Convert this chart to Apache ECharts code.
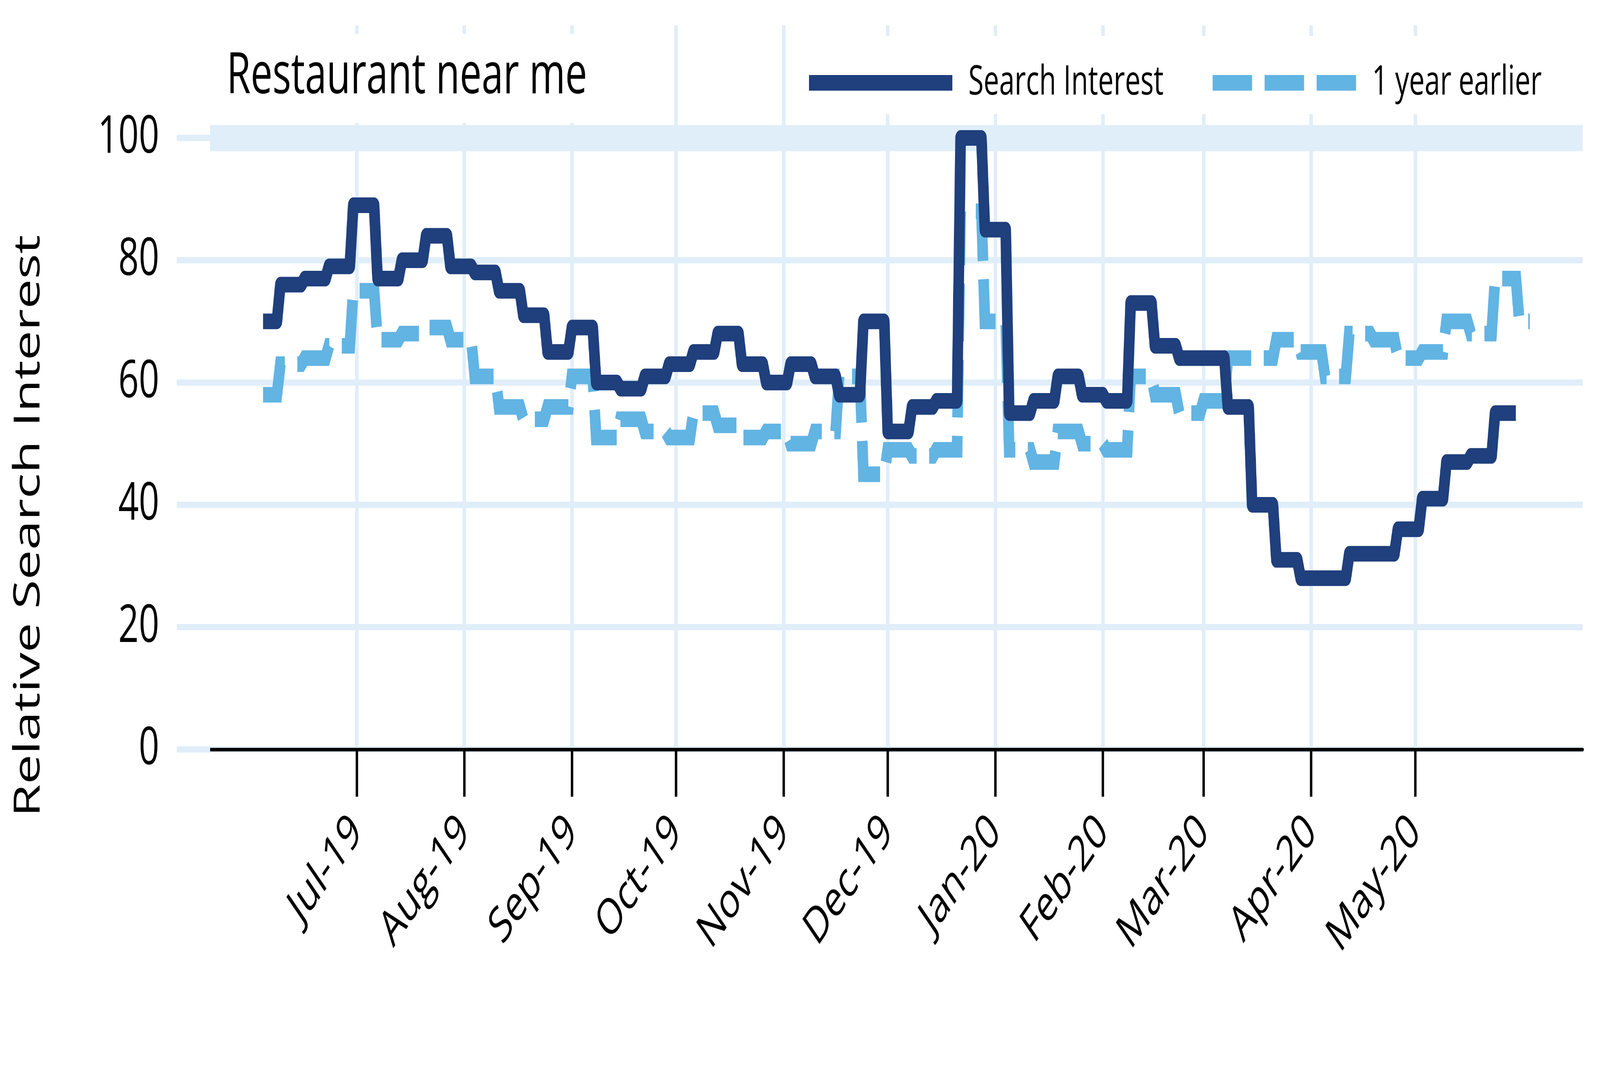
<!DOCTYPE html>
<html>
<head>
<meta charset="utf-8">
<title>Restaurant near me</title>
<script src="https://cdn.jsdelivr.net/npm/echarts@6/dist/echarts.min.js"></script>
<style>
html,body{margin:0;padding:0;background:#fff;overflow:hidden;}
#chart{width:6001px;height:2741px;transform-origin:0 0;}
</style>
</head>
<body>
<div id="chart"></div>
<script>
// weekly search interest, weeks start on sunday; first week is cut at firstDay
var titleText = 'Restaurant near me';
var yName = 'Relative Search Interest';
var seriesNames = ['Search Interest', '1 year earlier'];
var firstWeek = '2019-06-02';
var firstDay = '2019-06-04';
var lastDaySearch = '2020-05-30';
var lastDayEarlier = '2020-06-03';

var searchInterest = [70,76,77,79,89,77,80,84,79,78,75,71,65,69,60,59,61,63,65,68,
    63,60,63,61,58,70,52,56,57,100,85,55,57,61,58,57,73,66,64,64,
    56,40,31,28,28,32,32,36,41,47,48,55];
var yearEarlier = [58,63,64,66,75,67,68,69,67,61,56,54,56,61,51,54,52,51,55,53,
    51,52,50,52,61,45,49,48,49,88,70,49,47,52,50,49,61,58,55,57,
    64,64,67,65,61,68,67,64,65,70,68,77,70];

var monthTicks = ['2019-07-01','2019-08-01','2019-09-01','2019-10-01','2019-11-01','2019-12-01',
    '2020-01-01','2020-02-01','2020-03-01','2020-04-01','2020-05-01'];
var monthNames = ['Jan','Feb','Mar','Apr','May','Jun','Jul','Aug','Sep','Oct','Nov','Dec'];
var yTicks = [0, 20, 40, 60, 80, 100];

var DAY = 86400000;
var FONT = '"Open Sans", "Noto Sans", sans-serif';
var gridCol = '#E0EEF9';

function utc(s) {
    var p = s.split('-');
    return Date.UTC(+p[0], +p[1] - 1, +p[2]);
}

// each week is a flat piece from its sunday to its saturday
function weekly(values, lastDay) {
    var out = [], t0 = utc(firstWeek), lo = utc(firstDay), hi = utc(lastDay);
    values.forEach(function (v, k) {
        var s = t0 + 7 * k * DAY;
        out.push([Math.max(s, lo), v]);
        out.push([Math.min(s + 6 * DAY, hi), v]);
    });
    return out;
}

function monthLabel(v) {
    var d = new Date(v);
    return monthNames[d.getUTCMonth()] + '-' + String(d.getUTCFullYear()).slice(2);
}

var tickVals = monthTicks.map(utc);
var xMin = Date.UTC(2019, 4, 19, 18);
var xMax = Date.UTC(2020, 5, 18, 6);

// the drawing is laid out on 6001x2741; stretch it onto the real window
var box = document.getElementById('chart');
var sx = Math.min(window.innerWidth / 6001, 1);
var sy = Math.min(window.innerHeight / 2741, 1);
box.style.transform = 'scale(' + sx + ',' + sy + ')';

var chart = echarts.init(box, null, {renderer: 'canvas', width: 6001, height: 2741});

chart.setOption({
    animation: false,
    backgroundColor: '#fff',
    title: {
        text: titleText,
        left: 788, top: 87,
        padding: [20, 100, 28, 62],
        backgroundColor: '#fff',
        textStyle: {fontFamily: FONT, fontSize: 146, fontWeight: 'normal', color: '#000', lineHeight: 180}
    },
    legend: {
        left: 2980, top: 92,
        padding: [68, 40, 28, 54],
        backgroundColor: '#fff',
        itemWidth: 538, itemHeight: 40, itemGap: 184,
        selectedMode: false,
        textStyle: {fontFamily: FONT, fontSize: 104, color: '#000', padding: [28, 0, 0, 55]},
        data: [
            {name: seriesNames[0], icon: 'rect'},
            {name: seriesNames[1], icon: 'path://M0 0H148V40H0ZM195 0H343V40H195ZM390 0H538V40H390Z'}
        ]
    },
    graphic: [{
        type: 'text', x: 109, y: 1346, rotation: Math.PI / 2,
        style: {text: yName, font: '136px ' + FONT, fill: '#000', align: 'center', verticalAlign: 'middle'}
    }],
    grid: [
        {left: 788, right: 65, top: 353, bottom: 823, containLabel: false, outerBoundsMode: 'none'},
        {left: 788, right: 65, top: 65, bottom: 823, containLabel: false, outerBoundsMode: 'none'}
    ],
    xAxis: [{
        type: 'value', gridIndex: 0, min: xMin, max: xMax,
        axisLine: {show: true, lineStyle: {color: '#000', width: 9}},
        axisTick: {show: true, customValues: tickVals, length: 121, lineStyle: {color: '#000', width: 9}},
        axisLabel: {
            show: true, customValues: tickVals, rotate: 45, margin: 191,
            fontFamily: FONT, fontSize: 127, color: '#000',
            formatter: monthLabel
        },
        splitLine: {show: false}
    }, {
        type: 'value', gridIndex: 1, min: xMin, max: xMax,
        axisLine: {show: false},
        axisTick: {show: false, customValues: tickVals},
        axisLabel: {show: false, customValues: tickVals},
        splitLine: {show: true, lineStyle: {color: gridCol, width: 13}}
    }],
    yAxis: [{
        type: 'value', gridIndex: 0, min: 0, max: 100, interval: 20,
        axisLine: {show: false},
        axisTick: {show: true, length: 125, lineStyle: {color: gridCol, width: 16}},
        axisLabel: {margin: 191, fontFamily: FONT, fontSize: 134, color: '#000'},
        splitLine: {show: true, lineStyle: {color: gridCol, width: 16}}
    }, {
        type: 'value', gridIndex: 1, min: 0, max: 1, show: false
    }],
    series: [{
        name: seriesNames[0], type: 'line', xAxisIndex: 0, yAxisIndex: 0,
        data: weekly(searchInterest, lastDaySearch),
        showSymbol: false, symbol: 'none', z: 4,
        color: '#1F3F7D',
        lineStyle: {color: '#1F3F7D', width: 40, join: 'round', cap: 'butt'}
    }, {
        name: seriesNames[1], type: 'line', xAxisIndex: 0, yAxisIndex: 0,
        data: weekly(yearEarlier, lastDayEarlier),
        showSymbol: false, symbol: 'none', z: 3,
        color: '#62B4E3',
        lineStyle: {color: '#62B4E3', width: 40, type: [148, 47], join: 'miter', cap: 'butt'},
        markLine: {
            silent: true, symbol: 'none', z: 1,
            label: {show: false},
            lineStyle: {color: gridCol, width: 67, type: 'solid'},
            data: [{yAxis: yTicks[yTicks.length - 1]}]
        }
    }]
});
</script>
</body>
</html>
